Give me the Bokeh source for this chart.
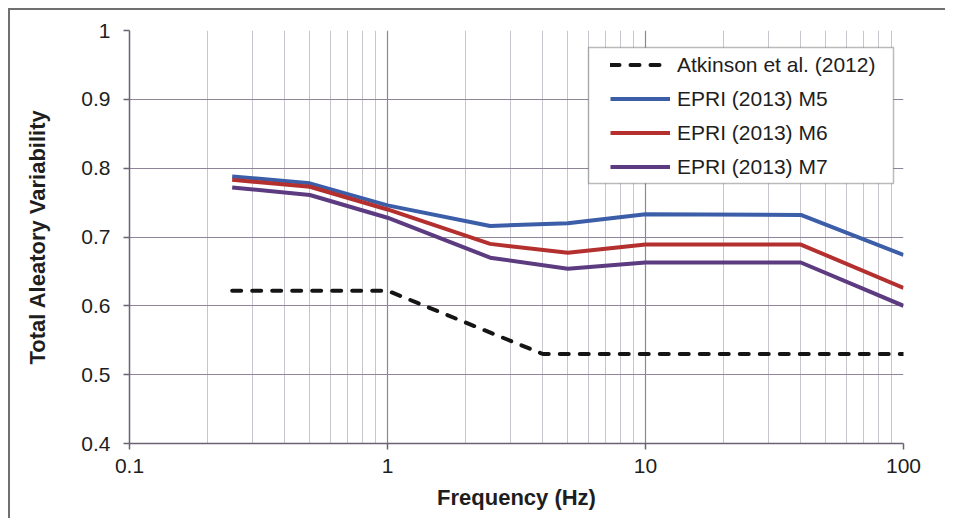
from bokeh.plotting import figure
from bokeh.models import (FixedTicker, Legend, LegendItem, Range1d, BoxAnnotation)
from bokeh.embed import file_html
from bokeh.resources import INLINE

# ---------------- data ----------------
freq_epri = [0.25, 0.5, 1, 2.5, 5, 10, 40, 100]
epri_m5 = [0.788, 0.778, 0.746, 0.716, 0.720, 0.733, 0.732, 0.674]
epri_m6 = [0.783, 0.773, 0.740, 0.690, 0.677, 0.689, 0.689, 0.626]
epri_m7 = [0.772, 0.761, 0.728, 0.670, 0.654, 0.663, 0.663, 0.600]

freq_atk = [0.25, 1, 4, 100]
atkinson = [0.622, 0.622, 0.530, 0.530]

x_ticks = [0.1, 1, 10, 100]
x_tick_labels = ["0.1", "1", "10", "100"]
y_ticks = [0.4, 0.5, 0.6, 0.7, 0.8, 0.9, 1.0]
y_tick_labels = ["0.4", "0.5", "0.6", "0.7", "0.8", "0.9", "1"]

labels = ["Atkinson et al. (2012)", "EPRI (2013) M5", "EPRI (2013) M6", "EPRI (2013) M7"]

# ---------------- figure ----------------
W, H = 937, 510
p = figure(width=W, height=H, x_axis_type="log",
           x_range=Range1d(0.1, 100), y_range=Range1d(0.4, 1.0),
           output_backend="svg", toolbar_location=None,
           min_border_left=119, min_border_right=44,
           min_border_top=20, min_border_bottom=77)
p.margin = (8, 0, 0, 8)
p.styles = {"border-left": "2px solid #707070", "border-top": "2px solid #707070"}
p.outline_line_color = None
p.background_fill_color = "white"
p.border_fill_color = "white"

minor = [m * d for d in (0.1, 1, 10) for m in range(2, 10)]
p.xaxis.ticker = FixedTicker(ticks=x_ticks, minor_ticks=minor)
p.xaxis.major_label_overrides = {t: l for t, l in zip(x_ticks, x_tick_labels)}
p.yaxis.ticker = FixedTicker(ticks=y_ticks)
p.yaxis.major_label_overrides = {t: l for t, l in zip(y_ticks, y_tick_labels)}

axis_col = "#6c6274"
for ax in (p.xaxis, p.yaxis):
    ax.axis_line_color = axis_col
    ax.axis_line_width = 1.5
    ax.major_tick_line_color = axis_col
    ax.major_tick_line_width = 1.5
    ax.major_tick_out = 6
    ax.major_tick_in = 0
    ax.minor_tick_out = 0
    ax.minor_tick_in = 0
    ax.major_label_text_font = "Liberation Sans"
    ax.major_label_text_font_size = "21px"
    ax.major_label_text_color = "#1e1e1e"
    ax.axis_label_text_font = "Liberation Sans"
    ax.axis_label_text_font_style = "bold"
    ax.axis_label_text_font_size = "22px"
    ax.axis_label_text_color = "#1e1e1e"

p.xaxis.axis_label = "Frequency (Hz)"
p.yaxis.axis_label = "Total Aleatory Variability"
p.xaxis.major_label_standoff = 9
p.xaxis.axis_label_standoff = 9
p.yaxis.major_label_standoff = 13
p.yaxis.axis_label_standoff = 28

p.xgrid.grid_line_color = "#8f8598"
p.xgrid.grid_line_width = 1.2
p.xgrid.minor_grid_line_color = "#c9c5cd"
p.xgrid.minor_grid_line_width = 1
p.ygrid.grid_line_color = "#8f8598"
p.ygrid.grid_line_width = 1.2

lw = 4
r_atk = p.line(freq_atk, atkinson, line_color="#151515", line_width=lw,
               line_dash="9 11", line_cap="round")
r5 = p.line(freq_epri, epri_m5, line_color="#3c5ea8", line_width=lw)
r6 = p.line(freq_epri, epri_m6, line_color="#b3302f", line_width=lw)
r7 = p.line(freq_epri, epri_m7, line_color="#5c3b80", line_width=lw)

legend = Legend(items=[LegendItem(label=l, renderers=[r]) for l, r in
                       zip(labels, [r_atk, r5, r6, r7])],
                location=(481, 264), padding=4, spacing=9,
                glyph_width=60, glyph_height=25, label_height=25,
                label_standoff=7,
                label_text_font="Liberation Sans", label_text_font_size="21px",
                label_text_color="#1e1e1e",
                border_line_color=None, background_fill_alpha=0)
p.add_layout(legend, "center")
legend.level = "overlay"

box = BoxAnnotation(left=459, right=764, bottom=260, top=396,
                    left_units="screen", right_units="screen",
                    top_units="screen", bottom_units="screen",
                    fill_color="white", fill_alpha=1.0,
                    line_color="#1a1a1a", line_width=1.5, level="overlay")
p.add_layout(box)

open("out.html", "w").write(file_html(p, INLINE))
